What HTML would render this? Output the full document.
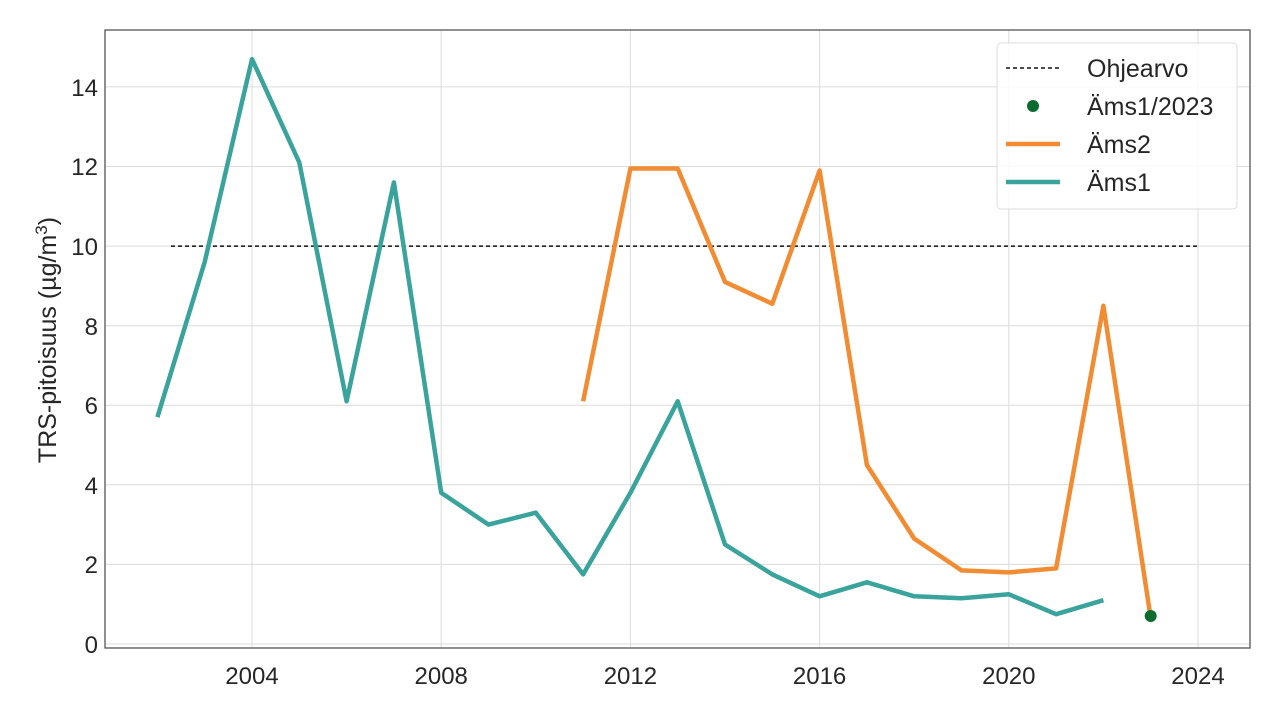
<!DOCTYPE html>
<html><head><meta charset="utf-8"><style>body{margin:0;background:#fff}</style></head><body>
<svg width="1280" height="711" xmlns="http://www.w3.org/2000/svg" font-family="Liberation Sans, DejaVu Sans, sans-serif">
<rect width="1280" height="711" fill="#fff"/>
<g stroke="#dcdcdc" stroke-width="1">
<line x1="105" x2="1250" y1="644" y2="644"/><line x1="105" x2="1250" y1="564.4" y2="564.4"/><line x1="105" x2="1250" y1="484.8" y2="484.8"/><line x1="105" x2="1250" y1="405.3" y2="405.3"/><line x1="105" x2="1250" y1="325.7" y2="325.7"/><line x1="105" x2="1250" y1="246.1" y2="246.1"/><line x1="105" x2="1250" y1="166.5" y2="166.5"/><line x1="105" x2="1250" y1="86.9" y2="86.9"/>
<line x1="252" x2="252" y1="30" y2="648"/><line x1="441.2" x2="441.2" y1="30" y2="648"/><line x1="630.4" x2="630.4" y1="30" y2="648"/><line x1="819.6" x2="819.6" y1="30" y2="648"/><line x1="1008.8" x2="1008.8" y1="30" y2="648"/><line x1="1198" x2="1198" y1="30" y2="648"/>
</g>
<rect x="105" y="30" width="1145" height="618" fill="none" stroke="#555" stroke-width="1.3"/>
<line x1="171" x2="1198" y1="246.1" y2="246.1" stroke="#111" stroke-width="1.5" stroke-dasharray="4,3"/>
<polyline fill="none" stroke="#3aa39c" stroke-width="4.5" stroke-linejoin="round" points="157.4,417.2 204.7,262 252,59.1 299.3,162.5 346.6,401.3 393.9,182.4 441.2,492.8 488.5,524.6 535.8,512.7 583.1,574.4 630.4,492.8 677.7,401.3 725,544.5 772.3,574.4 819.6,596.3 866.9,582.3 914.2,596.3 961.5,598.2 1008.8,594.3 1056.1,614.2 1103.4,600.2"/>
<polyline fill="none" stroke="#f28c33" stroke-width="4.5" stroke-linejoin="round" points="583.1,401.3 630.4,168.5 677.7,168.5 725,281.9 772.3,303.8 819.6,170.5 866.9,465 914.2,538.6 961.5,570.4 1008.8,572.4 1056.1,568.4 1103.4,305.8 1150.7,618.1"/>
<circle cx="1150.7" cy="616" r="6" fill="#0c6b2e"/>
<g font-size="24" fill="#262626" text-anchor="end">
<text x="98" y="653">0</text><text x="98" y="573">2</text><text x="98" y="494">4</text><text x="98" y="414">6</text><text x="98" y="335">8</text><text x="98" y="255">10</text><text x="98" y="175">12</text><text x="98" y="96">14</text>
</g>
<g font-size="24" fill="#262626" text-anchor="middle">
<text x="252" y="684">2004</text><text x="441.2" y="684">2008</text><text x="630.4" y="684">2012</text><text x="819.6" y="684">2016</text><text x="1008.8" y="684">2020</text><text x="1198" y="684">2024</text>
</g>
<text transform="translate(56,340) rotate(-90)" font-size="25" fill="#262626" text-anchor="middle">TRS-pitoisuus (µg/m<tspan dy="-9" font-size="17">3</tspan><tspan dy="9">)</tspan></text>
<rect x="997" y="43" width="240" height="166" rx="4" fill="#fff" fill-opacity="0.85" stroke="#ddd"/>
<line x1="1006" x2="1060" y1="68" y2="68" stroke="#111" stroke-width="1.5" stroke-dasharray="4,3"/>
<circle cx="1033" cy="106" r="6" fill="#0c6b2e"/>
<line x1="1006" x2="1060" y1="144" y2="144" stroke="#f28c33" stroke-width="4.5"/>
<line x1="1006" x2="1060" y1="182" y2="182" stroke="#3aa39c" stroke-width="4.5"/>
<g font-size="25" fill="#262626">
<text x="1087" y="77">Ohjearvo</text><text x="1087" y="115">Äms1/2023</text><text x="1087" y="153">Äms2</text><text x="1087" y="191">Äms1</text>
</g>
</svg>
</body></html>
